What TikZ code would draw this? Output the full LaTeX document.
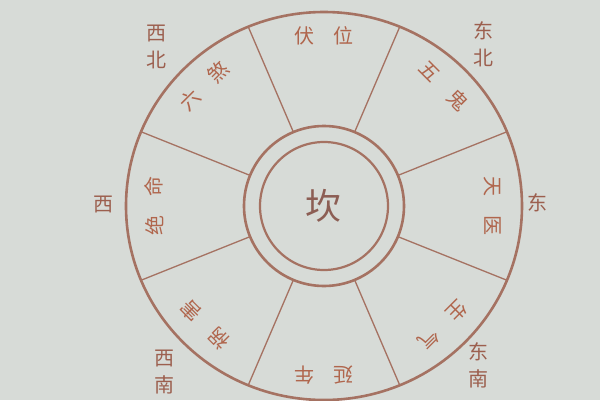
\documentclass[tikz,border=0pt]{standalone}
\usepackage{fontspec}
\newfontfamily\cjk{Noto Sans CJK SC}
\definecolor{paper}{HTML}{D7DBD7}
\definecolor{rim}{HTML}{A57262}
\definecolor{ink}{HTML}{B0664D}
\definecolor{dirink}{HTML}{9C5F4E}
\definecolor{kanink}{HTML}{8C5E54}

\begin{document}
\begin{tikzpicture}
	\tikzstyle{every node} = [inner sep=0pt, font=\cjk\fontsize{20}{27}\selectfont, text=ink]
	\tikzstyle{dir} = [text=dirink, align=center]
	\fill[paper] (-324pt,-194pt) rectangle (276pt,206pt);
	\useasboundingbox (-324pt,-194pt) rectangle (276pt,206pt);
	% rings
	\draw[rim, line width=2.6pt] (0,0) ellipse (198pt and 194pt);
	\draw[rim, line width=2.6pt] (0,0) circle (80pt);
	\draw[rim, line width=2.2pt] (0,0) circle (64pt);
	% spokes
	\draw[rim, line width=1.3pt] (22.5:80pt) -- (22.5:198pt and 194pt);
	\draw[rim, line width=1.3pt] (67.5:80pt) -- (67.5:198pt and 194pt);
	\draw[rim, line width=1.3pt] (112.5:80pt) -- (112.5:198pt and 194pt);
	\draw[rim, line width=1.3pt] (157.5:80pt) -- (157.5:198pt and 194pt);
	\draw[rim, line width=1.3pt] (202.5:80pt) -- (202.5:198pt and 194pt);
	\draw[rim, line width=1.3pt] (247.5:80pt) -- (247.5:198pt and 194pt);
	\draw[rim, line width=1.3pt] (292.5:80pt) -- (292.5:198pt and 194pt);
	\draw[rim, line width=1.3pt] (337.5:80pt) -- (337.5:198pt and 194pt);
	% centre
	\node[text=kanink, font=\cjk\fontsize{36}{36}\selectfont] (kan) at (0,0) {坎};
	% palaces
	\node[rotate=0] (fu) at (96.7:171pt) {伏};
	\node[rotate=0] (wei) at (83.3:171pt) {位};
	\node[rotate=-45] (wu) at (51.7:171pt) {五};
	\node[rotate=-45] (gui) at (38.3:171pt) {鬼};
	\node[rotate=-90] (tian) at (6.7:170pt) {天};
	\node[rotate=-90] (yi) at (-6.7:170pt) {医};
	\node[rotate=-135] (sheng) at (-38.3:169pt) {生};
	\node[rotate=-135] (qi) at (-51.7:169pt) {气};
	\node[rotate=180] (yan) at (-83.3:170pt) {延};
	\node[rotate=180] (nian) at (-96.7:170pt) {年};
	\node[rotate=135] (huo) at (-128.3:169pt) {祸};
	\node[rotate=135] (hai) at (-141.7:169pt) {害};
	\node[rotate=90] (jue) at (186.7:171pt) {绝};
	\node[rotate=90] (ming) at (173.3:171pt) {命};
	\node[rotate=45] (liu) at (141.7:171pt) {六};
	\node[rotate=45] (sha) at (128.3:171pt) {煞};
	% directions
	\node[dir] (NW) at (-167pt, 159pt) {西\\北};
	\node[dir] (NE) at (159pt, 162pt) {东\\北};
	\node[dir] (E) at (213pt, 3pt) {东};
	\node[dir] (W) at (-220pt, 1pt) {西};
	\node[dir] (SW) at (-159pt, -166pt) {西\\南};
	\node[dir] (SE) at (154pt, -159pt) {东\\南};
\end{tikzpicture}
\end{document}
